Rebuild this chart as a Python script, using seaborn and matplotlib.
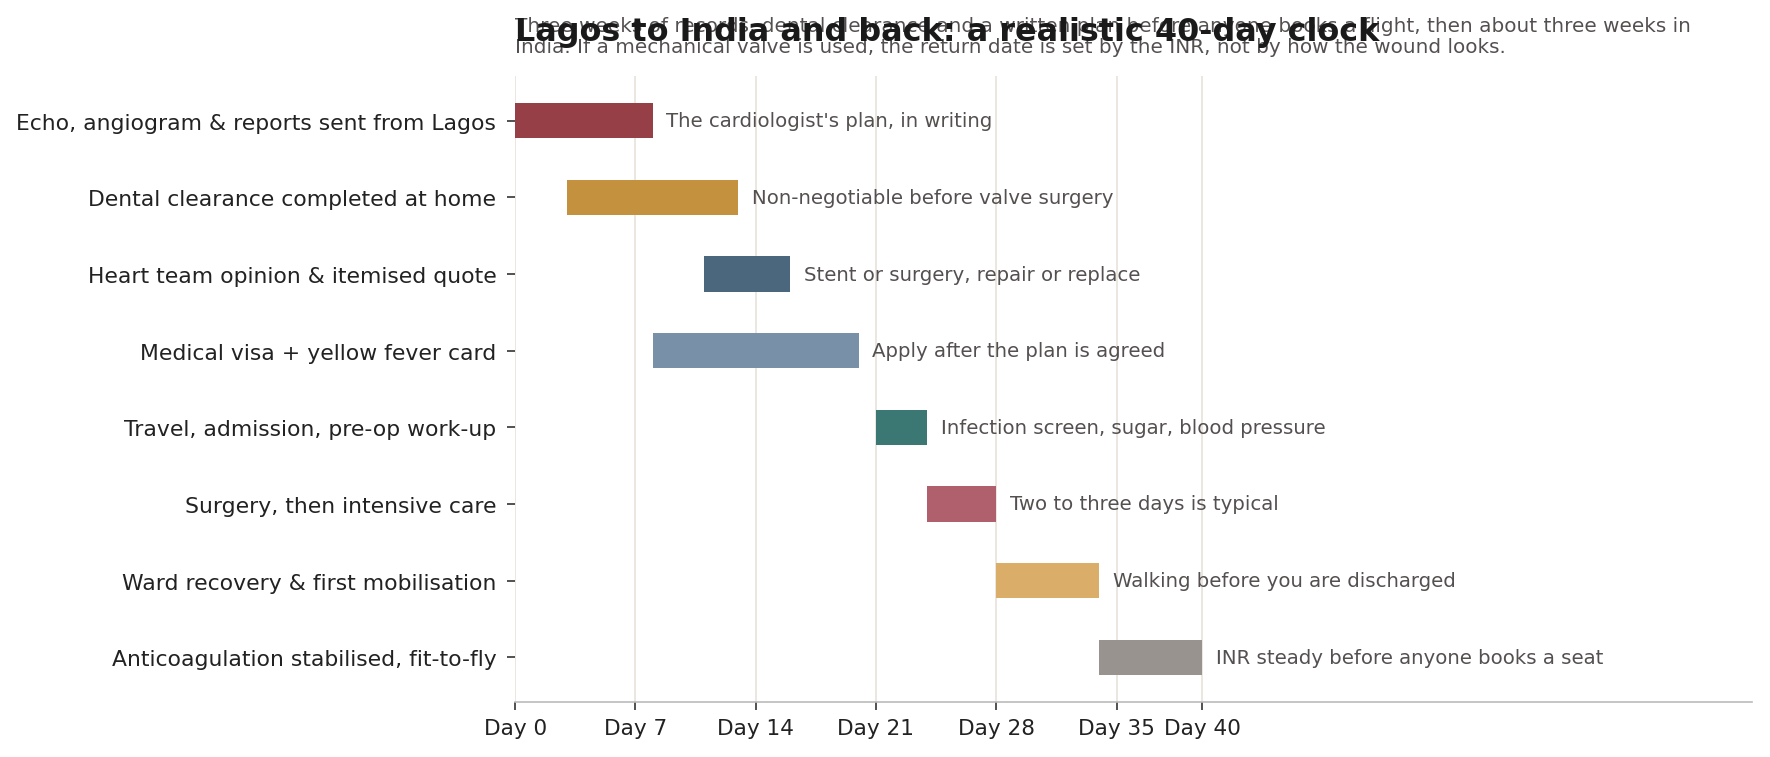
import numpy as np
import pandas as pd
import matplotlib
matplotlib.use("Agg")
import matplotlib.pyplot as plt
import seaborn as sns

# Data
tasks = [
    "Echo, angiogram & reports sent from Lagos",
    "Dental clearance completed at home",
    "Heart team opinion & itemised quote",
    "Medical visa + yellow fever card",
    "Travel, admission, pre-op work-up",
    "Surgery, then intensive care",
    "Ward recovery & first mobilisation",
    "Anticoagulation stabilised, fit-to-fly",
]
start_day = [0, 3, 11, 8, 21, 24, 28, 34]
end_day = [8, 13, 16, 20, 24, 28, 34, 40]
notes = [
    "The cardiologist's plan, in writing",
    "Non-negotiable before valve surgery",
    "Stent or surgery, repair or replace",
    "Apply after the plan is agreed",
    "Infection screen, sugar, blood pressure",
    "Two to three days is typical",
    "Walking before you are discharged",
    "INR steady before anyone books a seat",
]
bar_colors = ["#963F47", "#C4923E", "#4A677E", "#7891A8",
              "#3C7873", "#AF606C", "#DAAE69", "#98938F"]
tick_days = [0, 7, 14, 21, 28, 35, 40]
tick_labels = ["Day %d" % d for d in tick_days]

title = "Lagos to India and back: a realistic 40-day clock"
subtitle = ("Three weeks of records, dental clearance and a written plan before anyone books a flight, then about three weeks in\n"
            "India. If a mechanical valve is used, the return date is set by the INR, not by how the wound looks.")

df = pd.DataFrame({"task": tasks, "start": start_day, "end": end_day, "note": notes})
df["duration"] = df["end"] - df["start"]

sns.set_theme(style="white")
plt.rcParams["font.family"] = ["DejaVu Sans"]

fig, ax = plt.subplots(figsize=(11.8, 5.053), dpi=150)
fig.subplots_adjust(left=0.291, right=0.990, top=0.899, bottom=0.072)

ypos = np.arange(len(df))
ax.barh(ypos, df["duration"], left=df["start"], height=0.46,
        color=bar_colors, edgecolor="none", zorder=2)

for y, (e, n) in enumerate(zip(df["end"], df["note"])):
    ax.text(e + 0.8, y, n, va="center", ha="left", fontsize=9.5, color="#555050")

ax.set_yticks(ypos)
ax.set_yticklabels(df["task"], fontsize=10.5, color="#222222")
ax.set_ylim(len(df) - 0.41, -0.59)
ax.set_xlim(0, 72)
ax.set_xticks(tick_days)
ax.set_xticklabels(tick_labels, fontsize=10.4, color="#222222")

for d in tick_days:
    ax.axvline(d, color="#ebe5df", linewidth=0.9, zorder=0)

for s in ["top", "right", "left"]:
    ax.spines[s].set_visible(False)
ax.spines["bottom"].set_color("#bbbbbb")
ax.spines["bottom"].set_linewidth(0.8)
ax.tick_params(axis="both", which="both", length=4, width=0.8, color="#333333",
               left=True, bottom=True)
ax.tick_params(axis="y", pad=5)

ax.text(0, 1.063, subtitle, transform=ax.transAxes, ha="left", va="center",
        fontsize=9.6, color="#555050", linespacing=1.15)
ax.text(0, 1.07, title, transform=ax.transAxes, ha="left", va="center",
        fontsize=15.3, fontweight="bold", color="#1a1a1a")

fig.savefig("out.png", dpi=150)
